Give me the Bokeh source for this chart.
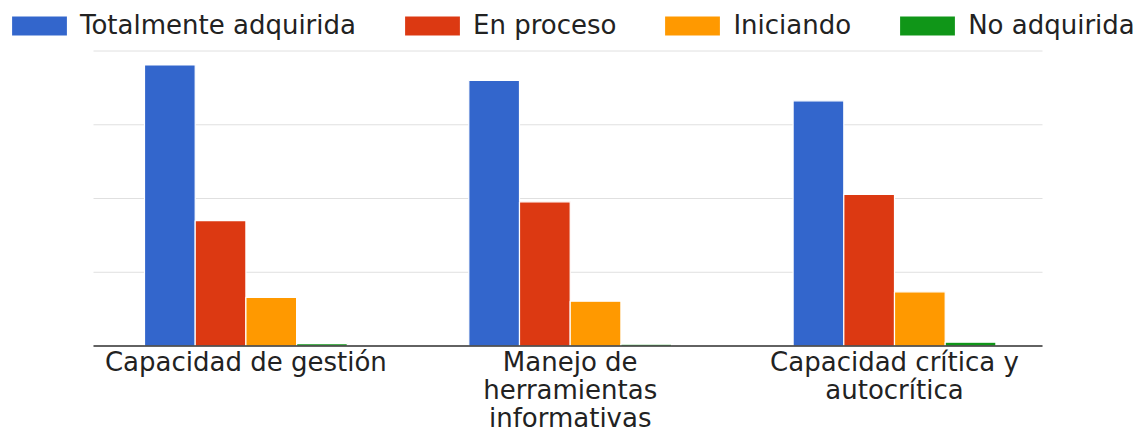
from bokeh.plotting import figure
from bokeh.models import ColumnDataSource, Range1d, Legend, LegendItem
from bokeh.core.properties import value
from bokeh.transform import dodge
from bokeh.embed import file_html
from bokeh.resources import INLINE

# ---------------- data ----------------
categories = ["Capacidad de gestión", "Manejo de herramientas informativas", "Capacidad crítica y autocrítica"]
label_lines = [["Capacidad de gestión"], ["Manejo de", "herramientas", "informativas"], ["Capacidad crítica y", "autocrítica"]]
series_names = ["Totalmente adquirida", "En proceso", "Iniciando", "No adquirida"]
totalmente = [38.1, 36.0, 33.25]
en_proceso = [17.0, 19.55, 20.55]
iniciando = [6.6, 6.07, 7.35]
no_adquirida = [0.33, 0.25, 0.52]
grid_values = [0, 10, 20, 30, 40]
colors = ["#3366cc", "#dc3912", "#ff9900", "#109618"]

# ---------------- layout constants (pixels) ----------------
W, H = 1142, 431
CAT0_PX, CAT_STEP_PX = 245.4, 324.3      # centre of first category, distance between categories
BASE_PX, UNIT_PX = 345.5, 7.375          # baseline pixel row, pixels per value unit
PLOT_LEFT_PX, PLOT_RIGHT_PX = 93, 1042
FONT = "DejaVu Sans"
TEXT_COLOR = "#222222"

x_start = -CAT0_PX / CAT_STEP_PX
x_end = x_start + W / CAT_STEP_PX
y_end = BASE_PX / UNIT_PX
y_start = -(H - BASE_PX) / UNIT_PX
gx0 = (PLOT_LEFT_PX - CAT0_PX) / CAT_STEP_PX
gx1 = (PLOT_RIGHT_PX - CAT0_PX) / CAT_STEP_PX

xpos = list(range(len(categories)))
source = ColumnDataSource(dict(x=xpos, cat=categories, s0=totalmente, s1=en_proceso, s2=iniciando, s3=no_adquirida))

p = figure(width=W, height=H, x_range=Range1d(x_start, x_end), y_range=Range1d(y_start, y_end),
           output_backend="svg", toolbar_location=None,
           min_border_left=0, min_border_right=0, min_border_top=0, min_border_bottom=0)
p.axis.visible = False
p.grid.visible = False
p.outline_line_color = None
p.background_fill_color = "white"

# horizontal gridlines
p.segment(x0=[gx0] * len(grid_values), x1=[gx1] * len(grid_values), y0=grid_values, y1=grid_values,
          line_color="#e0e0e0", line_width=1)

# bars
bw = 50.7 / CAT_STEP_PX
offsets = [-1.5 * bw, -0.5 * bw, 0.5 * bw, 1.5 * bw]
renderers = []
for i, (col, off) in enumerate(zip(["s0", "s1", "s2", "s3"], offsets)):
    r = p.vbar(x=dodge("x", off), top=col, width=bw, bottom=0, source=source,
               fill_color=colors[i], line_color="white", line_width=1.2)
    renderers.append(r)

# baseline (x axis line)
p.segment(x0=[gx0], x1=[gx1], y0=[0], y1=[0], line_color="#333333", line_width=1.5)

# category labels (one text per line)
lx, ly, lt, loff = [], [], [], []
LINE_PX = 28.0
FIRST_BASELINE_OFFSET = 16.0
for i, lines in enumerate(label_lines):
    for j, t in enumerate(lines):
        lx.append(xpos[i]); ly.append(0); lt.append(t); loff.append(FIRST_BASELINE_OFFSET + j * LINE_PX)
lsrc = ColumnDataSource(dict(x=lx, y=ly, text=lt, yoff=loff))
p.text(x="x", y="y", text="text", y_offset="yoff", source=lsrc,
       text_font=value(FONT), text_font_size="26px", text_color=TEXT_COLOR,
       text_align="center", text_baseline="alphabetic")

# legend
legend = Legend(
    items=[LegendItem(label=n, renderers=[r]) for n, r in zip(series_names, renderers)],
    orientation="horizontal",
    location=(4, 391),
    glyph_width=70, glyph_height=25,
    label_standoff=6, spacing=41, padding=0, margin=0,
    label_text_font=FONT, label_text_font_size="26px", label_text_color=TEXT_COLOR,
    border_line_color=None, background_fill_alpha=0,
)
p.add_layout(legend, "center")

open("out.html", "w").write(file_html(p, INLINE))
